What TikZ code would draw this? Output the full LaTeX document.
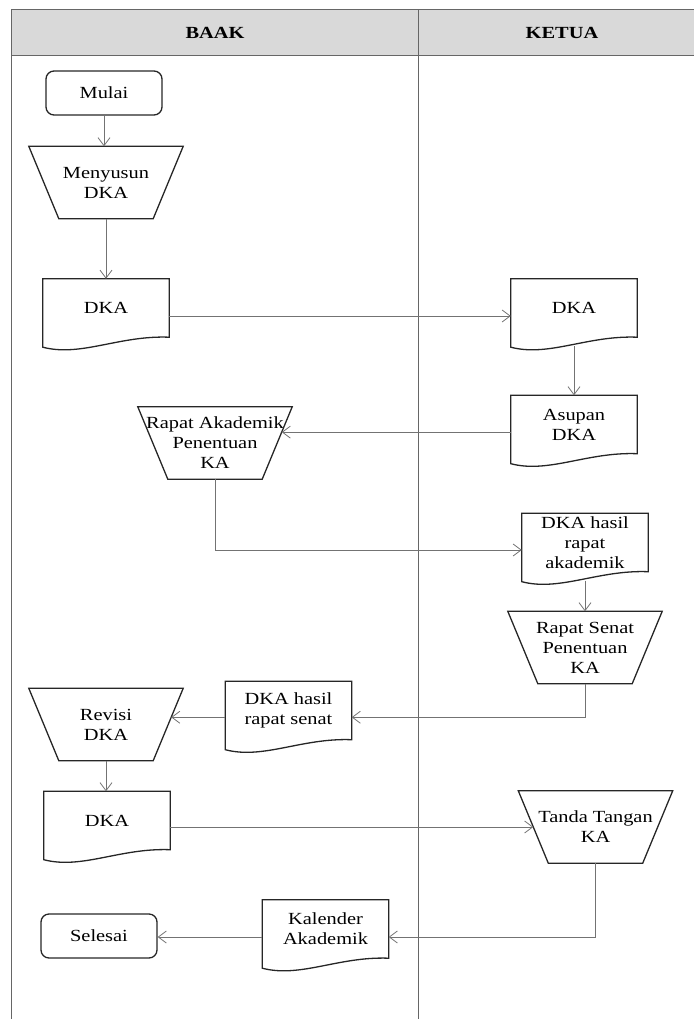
\documentclass[tikz,border=0pt]{standalone}
\usepackage{fontspec}
\setmainfont{Liberation Serif}[FakeStretch=1.2]
\usetikzlibrary{arrows.meta,calc}

\begin{document}
\begin{tikzpicture}[x=1pt,y=-1pt]
\tikzset{garis/.style={draw=black!85, line width=1.3pt},
  panah/.style={draw=black!55, line width=0.8pt, -{Straight Barb[length=8pt,width=12pt]}},
  lajur/.style={draw=black!60, line width=1pt},
  teks/.style={font=\fontsize{17}{20}\selectfont, align=center, inner sep=0pt},
  terminal/.style={teks, draw=black!85, line width=1.3pt, rounded corners=8pt, minimum width=116pt, minimum height=44pt},
  dok/.style={teks, minimum width=126pt, minimum height=58pt},
  proses/.style={teks, minimum width=154pt, minimum height=72pt}}
\useasboundingbox (0,0) rectangle (694,1019);
% lajur
\fill[black!15] (11,10) rectangle (694,56);
\draw[lajur] (11,1019) -- (11,10) -- (694,10);
\draw[lajur] (11,56) -- (694,56);
\draw[lajur] (418,10) -- (418,1019);
\node[teks, font=\fontsize{17}{20}\selectfont\bfseries] (baak) at (215,33) {BAAK};
\node[teks, font=\fontsize{17}{20}\selectfont\bfseries] (ketua) at (562,33) {KETUA};
% simbol
\node[terminal] (mulai) at (104,93) {Mulai};
\node[proses] (menyusun) at (106,182.5) {Menyusun\\DKA};
\node[dok] (dka1) at (106,308) {DKA};
\node[dok] (dka2) at (574,308) {DKA};
\node[dok] (asupan) at (574,424.5) {Asupan\\DKA};
\node[proses] (rapatak) at (215,443) {Rapat Akademik\\Penentuan\\KA};
\node[dok] (hasilak) at (585,542.5) {DKA hasil\\rapat\\akademik};
\node[proses] (rapatsen) at (585,647.5) {Rapat Senat\\Penentuan\\KA};
\node[dok] (hasilsen) at (288.5,710.5) {DKA hasil\\rapat senat};
\node[proses] (revisi) at (106,724.5) {Revisi\\DKA};
\node[dok] (dka3) at (107,820.5) {DKA};
\node[proses] (tanda) at (595.5,827) {Tanda Tangan\\KA};
\node[dok] (kalender) at (325.5,929) {Kalender\\Akademik};
\node[terminal] (selesai) at (99,936) {Selesai};
\foreach \d in {dka1,dka2,asupan,hasilak,hasilsen,dka3,kalender}
  \draw[garis] (\d.south east) -- (\d.north east) -- (\d.north west) -- ([yshift=-10pt]\d.south west) .. controls +(38,10) and +(-50,-2) .. (\d.south east) -- cycle;
\foreach \t in {menyusun,rapatak,rapatsen,revisi,tanda}
  \draw[garis] (\t.north west) -- (\t.north east) -- ([xshift=-30pt]\t.south east) -- ([xshift=30pt]\t.south west) -- cycle;
% titik masuk sisi miring
\coordinate (rk-in) at ($(rapatak.north east)!0.35!([xshift=-30pt]rapatak.south east)$);
\coordinate (rv-in) at ($(revisi.north east)!0.4!([xshift=-30pt]revisi.south east)$);
\coordinate (tt-in) at ($(tanda.north west)!0.5!([xshift=30pt]tanda.south west)$);
\coordinate (kal-y) at ([yshift=-8pt]kalender.east);
% alur
\draw[panah] (mulai.south) -- (mulai.south |- menyusun.north);
\draw[panah] (menyusun.south) -- (menyusun.south |- dka1.north);
\draw[panah] ([yshift=-8pt]dka1.east) -- ([yshift=-8pt]dka2.west);
\draw[panah] ([yshift=-9pt]dka2.south) -- (dka2.south |- asupan.north);
\draw[panah] (asupan.west |- rk-in) -- (rk-in);
\draw[panah] (rapatak.south) |- ([yshift=-7.5pt]hasilak.west);
\draw[panah] ([yshift=-9pt]hasilak.south) -- (hasilak.south |- rapatsen.north);
\draw[panah] (rapatsen.south) |- (hasilsen.east |- rv-in);
\draw[panah] (hasilsen.west |- rv-in) -- (rv-in);
\draw[panah] (revisi.south) -- (revisi.south |- dka3.north);
\draw[panah] (dka3.east |- tt-in) -- (tt-in);
\draw[panah] (tanda.south) |- (kal-y);
\draw[panah] (kalender.west |- kal-y) -- (selesai.east |- kal-y);
\end{tikzpicture}
\end{document}
